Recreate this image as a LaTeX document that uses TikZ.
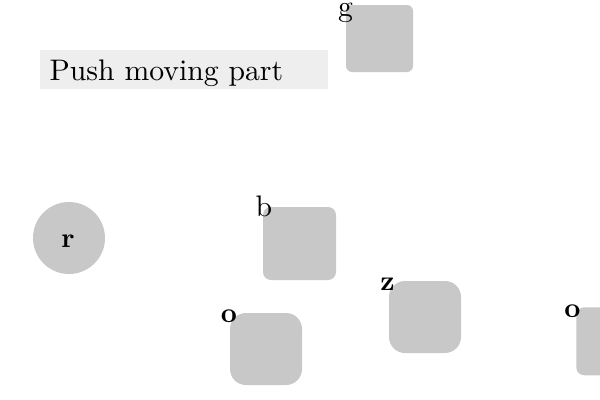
\documentclass[tikz,border=0pt]{standalone}
\begin{document}
\begin{tikzpicture}[x=0.75pt,y=-0.75pt,
  part/.style={fill=shapegray,draw=none,minimum width=72*0.75pt,minimum height=72*0.75pt,inner sep=0pt},
  bigl/.style={font=\fontsize{10}{12}\selectfont,inner sep=0pt,scale=2.23,transform shape},
  smalll/.style={font=\fontsize{10}{12}\selectfont\bfseries,inner sep=0pt,scale=2.1,transform shape}]
\definecolor{shapegray}{HTML}{C8C8C8}
\definecolor{paneglgray}{HTML}{EEEEEE}
\useasboundingbox (0,0) rectangle (600,400);
% title
\node[fill=paneglgray,minimum width=288*0.75pt,minimum height=39*0.75pt,inner sep=0pt,anchor=north west] (title) at (40,50) {};
\node[bigl,anchor=base west] (titletext) at (49,80) {Push moving part};
% g box
\node[part,rounded corners=6*0.75pt,minimum width=67*0.75pt,minimum height=67*0.75pt] (g) at (379.5,38.5) {};
\node[bigl,anchor=base] (gl) at (345.5,16) {g};
% circle r
\node[circle,fill=shapegray,minimum size=72*0.75pt,inner sep=0pt] (r) at (69,238) {};
\node[smalll] (rl) at (68,241.5) {r};
% b box
\node[part,rounded corners=8*0.75pt,minimum width=73*0.75pt,minimum height=73*0.75pt] (b) at (299.5,243.5) {};
\node[bigl,anchor=base] (bl) at (264,216) {b};
% o box left
\node[part,rounded corners=16*0.75pt] (o1) at (266,349) {};
\node[smalll] (o1l) at (229,316) {o};
% z box
\node[part,rounded corners=16*0.75pt] (z) at (425,317) {};
\node[smalll] (zl) at (387.5,284.5) {z};
% right o box
\node[part,rounded corners=8*0.75pt,minimum height=68*0.75pt,anchor=north west] (o2) at (576,307) {};
\node[smalll] (o2l) at (572.5,311.5) {o};
\end{tikzpicture}
\end{document}
